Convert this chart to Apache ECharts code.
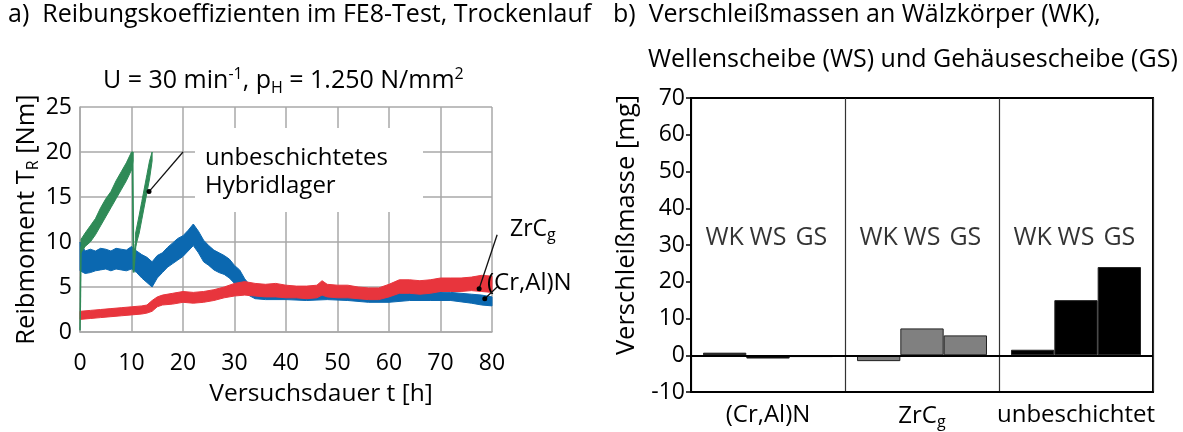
<!DOCTYPE html>
<html>
<head>
<meta charset="utf-8">
<script src="https://cdn.jsdelivr.net/npm/echarts@6/dist/echarts.min.js"></script>
<style>
  html, body { margin: 0; padding: 0; background: #fff; }
  #chart { width: 1183px; height: 432px; }
</style>
</head>
<body>
<div id="chart"></div>
<script>
// ---- a) Reibmoment im FE8-Test: Messsignal als Band (untere / obere Hüllkurve) ----
const tCrAlN    = [0, 1, 2, 3, 4, 5, 6, 7, 8, 9, 10, 11, 12, 13, 14, 15, 16, 17, 18, 19, 20, 21, 22, 23, 24, 25, 26, 27, 28, 29, 30, 31, 32, 33, 34, 36, 40, 44, 48, 52, 56, 60, 64, 68, 72, 76, 78, 80];
const crAlNLow  = [6.8, 6.5, 6.6, 6.8, 6.9, 7.0, 6.8, 7.0, 6.9, 6.8, 7.0, 6.6, 6.0, 5.5, 5.0, 6.0, 6.6, 7.2, 7.6, 8.0, 8.4, 9.0, 9.6, 8.8, 7.8, 7.4, 6.9, 6.6, 6.4, 6.0, 5.4, 4.8, 4.3, 4.0, 3.7, 3.6, 3.6, 3.5, 3.6, 3.5, 3.3, 3.3, 3.5, 3.5, 3.5, 3.2, 3.0, 2.9];
const crAlNHigh = [10.0, 9.0, 9.2, 9.0, 9.3, 9.2, 9.0, 9.3, 9.2, 9.1, 9.5, 9.0, 8.6, 8.3, 7.8, 8.5, 8.8, 9.4, 9.9, 10.4, 10.7, 11.3, 12.0, 11.2, 10.2, 9.6, 9.1, 8.8, 8.5, 8.1, 7.4, 6.9, 5.9, 5.2, 4.6, 4.5, 4.5, 4.4, 4.5, 4.4, 4.3, 4.3, 4.5, 4.5, 4.4, 4.2, 4.1, 3.9];

const tZrC      = [0, 2, 4, 6, 8, 10, 12, 13, 14, 15, 16, 18, 20, 22, 24, 26, 28, 30, 32, 34, 36, 38, 40, 42, 44, 46, 47, 48, 50, 52, 54, 56, 58, 60, 62, 64, 66, 68, 70, 72, 74, 76, 78, 80];
const zrcLow    = [1.4, 1.5, 1.6, 1.7, 1.8, 1.9, 2.0, 2.1, 2.3, 2.8, 3.0, 3.1, 3.3, 3.2, 3.3, 3.5, 3.8, 4.0, 4.1, 4.0, 3.9, 3.9, 3.8, 3.8, 3.7, 3.8, 4.1, 3.9, 3.8, 3.8, 3.7, 3.6, 3.6, 3.9, 4.3, 4.3, 4.2, 4.3, 4.5, 4.5, 4.5, 4.6, 4.5, 4.4];
const zrcHigh   = [2.3, 2.4, 2.5, 2.6, 2.7, 2.8, 2.9, 3.0, 3.5, 3.9, 4.1, 4.3, 4.5, 4.4, 4.5, 4.7, 5.0, 5.4, 5.6, 5.4, 5.3, 5.4, 5.2, 5.1, 5.1, 5.2, 5.7, 5.3, 5.2, 5.2, 5.0, 4.9, 4.9, 5.3, 5.8, 5.8, 5.7, 5.8, 6.0, 6.0, 6.0, 6.1, 6.3, 6.2];

// unbeschichtetes Hybridlager: zwei Anstiege bis zur Abschaltgrenze, dazwischen der Neustart
const tHybrid1    = [0.2, 1, 2, 3, 4, 5, 6, 7, 8, 9, 10, 10.3];
const hybrid1Low  = [8.8, 9.5, 10.0, 10.8, 11.8, 12.8, 13.8, 14.8, 15.8, 16.8, 18.0, 19.0];
const hybrid1High = [10.3, 11.0, 11.8, 12.6, 13.8, 14.8, 15.6, 16.8, 17.8, 18.8, 20.0, 20.0];
const tHybrid2    = [10.8, 11.5, 12, 12.5, 13, 13.5, 14];
const hybrid2Low  = [9.5, 11.0, 12.5, 14.0, 15.5, 17.0, 19.0];
const hybrid2High = [11.0, 13.0, 14.5, 16.0, 17.5, 19.0, 20.0];
const hybridStart = [[0, 0.2], [0.2, 9.5]];
const hybridRestart = [[10.2, 20], [10.4, 6.6], [10.8, 9.8]];

const xTicksA = ['0', '10', '20', '30', '40', '50', '60', '70', '80'];

// ---- b) Verschleißmassen ----
const coatings  = ['(Cr,Al)N', 'ZrCg', 'unbeschichtet'];
const partNames = ['WK', 'WS', 'GS'];
const wearWK = [0.7, -1.6, 1.5];
const wearWS = [-0.9, 7.3, 15.0];
const wearGS = [-0.5, 5.4, 24.0];

const FONT = '"Open Sans", sans-serif';
const FS_TITLE = 25, FS_NAME = 25.5, FS_TICK = 23, FS_NOTE = 24;
const TXT = '#000';
const BLUE = '#0b68b0', RED = '#e8353d', GREEN = '#2f8a57';
const GRID_GRAY = '#a9a9a9';

const sub = { fontSize: 16, verticalAlign: 'bottom', padding: [11, 0, 0, 0], fontFamily: FONT, color: TXT };
const sup = { fontSize: 16, verticalAlign: 'top', padding: [0, 0, 11, 0], fontFamily: FONT, color: TXT };

function band(ts, lo, hi, color) {
  return function (params, api) {
    const pts = [];
    for (let i = 0; i < ts.length; i++) pts.push(api.coord([ts[i], hi[i]]));
    for (let i = ts.length - 1; i >= 0; i--) pts.push(api.coord([ts[i], lo[i]]));
    return { type: 'polygon', shape: { points: pts }, style: { fill: color, stroke: color, lineWidth: 1 } };
  };
}

// bar layout inside one category band
const BAR_GAP = 0.156;
const barCenter = (cat, k) => cat + BAR_GAP / 2 + (k + 0.5) * (1 - BAR_GAP) / 3;
const LABEL_LEVEL = 32;
const partLabelData = [];
coatings.forEach((c, i) => partNames.forEach((p, k) => partLabelData.push({ value: [barCenter(i, k), LABEL_LEVEL], name: p })));

const barColor = (i) => (i === 1 ? '#808080' : '#000');
const mkBars = (vals) => vals.map((v, i) => ({ value: v, itemStyle: { color: barColor(i) } }));

const chart = echarts.init(document.getElementById('chart'), null, { renderer: 'canvas' });

const titleStyle = { fontFamily: FONT, fontSize: FS_TITLE, fontWeight: 'normal', color: TXT };

const option = {
  animation: false,
  textStyle: { fontFamily: FONT },
  title: [
    { text: 'a)  Reibungskoeffizienten im FE8-Test, Trockenlauf', left: 8, top: 2, padding: 0, textStyle: titleStyle },
    { text: 'U = 30 min{sup|-1}, p{sub|H} = 1.250 N/mm{sup|2}', left: 103, top: 66, padding: 0,
      textStyle: Object.assign({ lineHeight: 30, rich: { sub, sup } }, titleStyle) },
    { text: 'b)  Verschleißmassen an Wälzkörper (WK),', left: 613, top: 2, padding: 0, textStyle: titleStyle },
    { text: 'Wellenscheibe (WS) und Gehäusescheibe (GS)', left: 648, top: 47, padding: 0, textStyle: titleStyle }
  ],
  grid: [
    { left: 80, top: 107, width: 412, height: 225, show: false },
    { left: 691, top: 98, width: 462, height: 294, show: true, borderColor: '#000', borderWidth: 2, backgroundColor: 'transparent' }
  ],
  xAxis: [
    { type: 'value', gridIndex: 0, min: 0, max: 80, interval: 10,
      name: 'Versuchsdauer t [h]', nameLocation: 'middle', nameGap: 50,
      nameTextStyle: { fontFamily: FONT, fontSize: 24.5, color: TXT, padding: [0, 0, 0, 70] },
      axisLine: { show: true, lineStyle: { color: GRID_GRAY, width: 1.5 } },
      axisTick: { show: false },
      axisLabel: { fontSize: FS_TICK, color: TXT, margin: 20, formatter: (v) => xTicksA[Math.round(v / 10)] },
      splitLine: { show: true, lineStyle: { color: GRID_GRAY, width: 1.5 } } },
    { type: 'category', gridIndex: 1, data: coatings, boundaryGap: true,
      axisLine: { show: true, onZero: false, lineStyle: { color: '#000', width: 2 } },
      axisTick: { show: false },
      axisLabel: { fontSize: 24, color: TXT, margin: 11, interval: 0,
        formatter: (v) => (v === 'ZrCg' ? 'ZrC{sub|g}' : v), rich: { sub: Object.assign({}, sub, { fontSize: 16 }) } },
      splitLine: { show: true, interval: 0, lineStyle: { color: '#333', width: 1.2 } } },
    { type: 'value', gridIndex: 1, min: 0, max: 3, show: false }
  ],
  yAxis: [
    { type: 'value', gridIndex: 0, min: 0, max: 25, interval: 5,
      name: 'Reibmoment T{sub|R} [Nm]', nameLocation: 'middle', nameGap: 38, nameRotate: 90,
      nameTextStyle: { fontFamily: FONT, fontSize: FS_NAME, color: TXT, lineHeight: 30, rich: { sub } },
      axisLine: { show: true, lineStyle: { color: GRID_GRAY, width: 1.5 } },
      axisTick: { show: false },
      axisLabel: { fontSize: FS_TICK, color: TXT, margin: 8 },
      splitLine: { show: true, lineStyle: { color: GRID_GRAY, width: 1.5 } } },
    { type: 'value', gridIndex: 1, min: -10, max: 70, interval: 10,
      name: 'Verschleißmasse [mg]', nameLocation: 'middle', nameGap: 51, nameRotate: 90,
      nameTextStyle: { fontFamily: FONT, fontSize: FS_NAME, color: TXT, padding: [0, 0, 0, 40] },
      axisLine: { show: true, lineStyle: { color: '#000', width: 2 } },
      axisTick: { show: true, length: 5, lineStyle: { color: '#000', width: 1.5 } },
      axisLabel: { fontSize: FS_TICK, color: TXT, margin: 6 },
      splitLine: { show: false } }
  ],
  series: [
    { name: '(Cr,Al)N', type: 'custom', xAxisIndex: 0, yAxisIndex: 0, z: 3,
      renderItem: band(tCrAlN, crAlNLow, crAlNHigh, BLUE), data: [[tCrAlN[0], crAlNLow[0]]] },
    { name: 'ZrCg', type: 'custom', xAxisIndex: 0, yAxisIndex: 0, z: 4,
      renderItem: band(tZrC, zrcLow, zrcHigh, RED), data: [[tZrC[0], zrcLow[0]]] },
    { name: 'unbeschichtet 1', type: 'custom', xAxisIndex: 0, yAxisIndex: 0, z: 5,
      renderItem: band(tHybrid1, hybrid1Low, hybrid1High, GREEN), data: [[tHybrid1[0], hybrid1Low[0]]] },
    { name: 'unbeschichtet 2', type: 'custom', xAxisIndex: 0, yAxisIndex: 0, z: 5,
      renderItem: band(tHybrid2, hybrid2Low, hybrid2High, GREEN), data: [[tHybrid2[0], hybrid2Low[0]]] },
    { type: 'line', xAxisIndex: 0, yAxisIndex: 0, z: 5, data: hybridStart, showSymbol: false,
      lineStyle: { color: GREEN, width: 1.5 } },
    { type: 'line', xAxisIndex: 0, yAxisIndex: 0, z: 5, data: hybridRestart, showSymbol: false,
      lineStyle: { color: GREEN, width: 1.8 } },

    { name: 'WK', type: 'bar', xAxisIndex: 1, yAxisIndex: 1, data: mkBars(wearWK),
      barGap: '0%', barCategoryGap: (BAR_GAP * 100) + '%',
      itemStyle: { borderColor: '#222', borderWidth: 1 },
      markLine: { silent: true, symbol: 'none', label: { show: false },
        lineStyle: { color: '#000', type: 'solid', width: 2 }, data: [{ yAxis: 0 }] } },
    { name: 'WS', type: 'bar', xAxisIndex: 1, yAxisIndex: 1, data: mkBars(wearWS),
      barGap: '0%', barCategoryGap: (BAR_GAP * 100) + '%', itemStyle: { borderColor: '#222', borderWidth: 1 } },
    { name: 'GS', type: 'bar', xAxisIndex: 1, yAxisIndex: 1, data: mkBars(wearGS),
      barGap: '0%', barCategoryGap: (BAR_GAP * 100) + '%', itemStyle: { borderColor: '#222', borderWidth: 1 } },
    { type: 'scatter', xAxisIndex: 2, yAxisIndex: 1, symbolSize: 0, data: partLabelData, silent: true,
      label: { show: true, position: 'inside', formatter: (p) => p.name, fontFamily: FONT, fontSize: 25, color: TXT } }
  ]
};
chart.setOption(option);

// Beschriftungen mit Zeigerlinien im Diagramm a)
const px = (pt) => chart.convertToPixel({ gridIndex: 0 }, pt);
const pointers = [
  { from: [20, 20], to: [13.4, 15.6] },
  { from: [81, 10.8], to: [77.5, 4.8] },
  { from: [81, 5.0], to: [78.6, 3.7] }
];
const graphics = [
  { type: 'rect', shape: { x: 195, y: 128, width: 228, height: 84 }, style: { fill: '#fff' }, z: 1 },
  { type: 'text', left: 205, top: 144, z: 100,
    style: { text: 'unbeschichtetes\nHybridlager', font: FS_NOTE + 'px ' + FONT, fill: TXT, lineHeight: 28 } },
  { type: 'text', left: 510, top: 218, z: 100,
    style: { text: '{m|ZrC}{s|g}', fill: TXT,
      rich: { m: { fontSize: 23, fontFamily: FONT, lineHeight: 28, color: TXT }, s: { fontSize: 16, fontFamily: FONT, color: TXT, verticalAlign: 'bottom', padding: [10, 0, 0, 0] } } } },
  { type: 'text', left: 487, top: 271, z: 100,
    style: { text: '(Cr,Al)N', font: FS_NOTE + 'px ' + FONT, fill: TXT } }
];
pointers.forEach((p) => {
  const a = px(p.from), b = px(p.to);
  graphics.push({ type: 'line', z: 100, shape: { x1: a[0], y1: a[1], x2: b[0], y2: b[1] }, style: { stroke: '#111', lineWidth: 1.3 } });
  graphics.push({ type: 'circle', z: 100, shape: { cx: b[0], cy: b[1], r: 2.5 }, style: { fill: '#000' } });
});
chart.setOption({ graphic: graphics });
</script>
</body>
</html>
